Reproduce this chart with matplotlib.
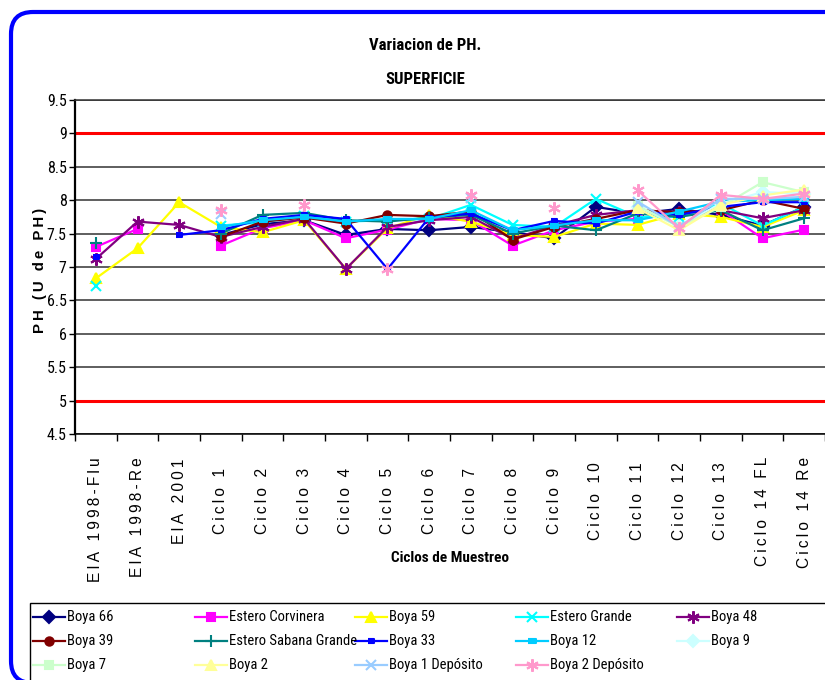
import numpy as np
import matplotlib.pyplot as plt
from matplotlib.lines import Line2D
from matplotlib.patches import FancyBboxPatch, Rectangle

# Fuentes: estrecha (tipo Arial Narrow) y normal (tipo Arial)
ESTRECHA = ['Roboto Condensed', 'Liberation Sans', 'DejaVu Sans']
NORMAL = ['Liberation Sans', 'DejaVu Sans']
plt.rcParams['font.family'] = ESTRECHA

# Categorias del eje X
ciclos = ['EIA 1998-Flu', 'EIA 1998-Re', 'EIA 2001', 'Ciclo 1', 'Ciclo 2', 'Ciclo 3',
          'Ciclo 4', 'Ciclo 5', 'Ciclo 6', 'Ciclo 7', 'Ciclo 8', 'Ciclo 9', 'Ciclo 10',
          'Ciclo 11', 'Ciclo 12', 'Ciclo 13', 'Ciclo 14 FL', 'Ciclo 14 Re']

N = None
# Valores de pH por estacion
boya_66 = [N, N, N, 7.48, 7.64, 7.70, 7.48, 7.57, 7.55, 7.60, 7.52, 7.43, 7.90, 7.80, 7.87, 7.78, 7.62, 7.90]
estero_corvinera = [7.30, 7.57, N, 7.32, 7.58, 7.70, 7.43, 7.56, 7.72, 7.70, 7.32, 7.55, 7.68, 7.72, 7.80, 7.85, 7.43, 7.56]
boya_59 = [6.83, 7.28, 7.97, 7.60, 7.52, 7.70, 6.97, 7.58, 7.78, 7.68, 7.48, 7.45, 7.65, 7.63, 7.80, 7.75, 7.60, 7.85]
estero_grande = [6.72, N, N, 7.62, 7.67, 7.76, 7.68, 7.70, 7.72, 7.93, 7.63, 7.60, 8.02, 7.75, 7.75, 7.95, 7.62, 7.90]
boya_48 = [7.12, 7.68, 7.63, 7.45, 7.60, 7.72, 6.97, 7.60, 7.70, 7.75, 7.42, 7.62, 7.78, 7.85, 7.82, 7.85, 7.73, 7.85]
boya_39 = [N, N, N, 7.45, 7.68, 7.74, 7.65, 7.78, 7.76, 7.83, 7.41, 7.60, 7.72, 7.85, 7.82, 7.85, 8.00, 7.87]
estero_sabana = [7.36, N, N, 7.50, 7.78, 7.81, 7.70, 7.68, 7.74, 7.78, 7.50, 7.62, 7.55, 7.80, 7.75, 7.85, 7.55, 7.73]
boya_33 = [7.15, N, 7.48, 7.55, 7.72, 7.78, 7.72, 6.97, 7.74, 7.80, 7.55, 7.69, 7.65, 7.83, 7.78, 7.90, 7.97, 7.97]
boya_12 = [N, N, N, 7.60, 7.70, 7.75, 7.68, 7.72, 7.72, 7.85, 7.55, 7.62, 7.70, 7.70, 7.83, 7.98, 8.00, 8.02]
boya_9 = [N, N, N, N, N, N, N, N, N, N, N, N, N, 7.90, 7.62, 7.95, 8.12, 8.10]
boya_7 = [N, N, N, N, N, N, N, N, N, N, N, N, N, 7.92, 7.60, 7.90, 8.27, 8.12]
boya_2 = [N, N, N, N, N, N, N, N, N, N, N, N, N, 7.88, 7.55, 7.93, 8.07, 8.16]
boya_1_dep = [N, N, N, 7.80, N, N, N, N, N, 8.03, N, N, N, 7.98, 7.60, 8.02, 8.02, 8.05]
boya_2_dep = [N, N, N, 7.85, N, 7.93, N, 6.97, N, 8.08, N, 7.88, N, 8.15, 7.58, 8.08, 8.02, 8.10]

# Limites de referencia
limite_sup = 9
limite_inf = 5

rect = [(-1, -0.45), (1, -0.45), (1, 0.45), (-1, 0.45)]
estrella = (6, 2, 0)
series = [
    ('Boya 66', boya_66, '#000080', 'D', 6),
    ('Estero Corvinera', estero_corvinera, '#FF00FF', 's', 6),
    ('Boya 59', boya_59, '#FFFF00', '^', 7),
    ('Estero Grande', estero_grande, '#00FFFF', 'x', 7),
    ('Boya 48', boya_48, '#800080', estrella, 9),
    ('Boya 39', boya_39, '#800000', 'o', 6),
    ('Estero Sabana Grande', estero_sabana, '#008080', '+', 8),
    ('Boya 33', boya_33, '#0000FF', rect, 5),
    ('Boya 12', boya_12, '#00CCFF', rect, 6),
    ('Boya 9', boya_9, '#CCFFFF', 'D', 6),
    ('Boya 7', boya_7, '#CCFFCC', 's', 6),
    ('Boya 2', boya_2, '#FFFF99', '^', 7),
    ('Boya 1 Depósito', boya_1_dep, '#99CCFF', 'x', 7),
    ('Boya 2 Depósito', boya_2_dep, '#FF99CC', estrella, 9),
]

fig = plt.figure(figsize=(8.25, 6.8), dpi=100)
ax = fig.add_axes([75 / 825, 1 - 434 / 680, 750 / 825, 334 / 680])

x = np.arange(len(ciclos))
for nombre, valores, color, marca, tam in series:
    y = np.array([np.nan if v is None else v for v in valores], dtype=float)
    ax.plot(x, y, color=color, lw=1.6, marker=marca, ms=tam, mfc=color, mec=color,
            mew=1.5, label=nombre, zorder=3)

ax.axhline(limite_sup, color='red', lw=2.2, zorder=2)
ax.axhline(limite_inf, color='red', lw=2.2, zorder=2)

# Ejes
ax.set_xlim(-0.5, len(ciclos) - 0.5)
ax.set_ylim(4.5, 9.5)
yt = np.arange(4.5, 9.51, 0.5)
ax.set_yticks(yt)
ax.set_yticklabels([f'{v:g}' for v in yt], fontsize=11.5)
ax.yaxis.grid(True, color='#333333', lw=1.1)
ax.set_axisbelow(True)
ax.tick_params(axis='y', direction='out', length=4, width=1, pad=2)

ax.set_xticks(x)
ax.set_xticklabels([])
ax.set_xticks(np.arange(-0.5, len(ciclos)), minor=True)
ax.tick_params(axis='x', which='major', length=0)
ax.tick_params(axis='x', which='minor', length=5, width=1, direction='out')

# Etiquetas de categoria verticales y espaciadas (centradas si caben)
alto_ax = 334
centro = -(501 - 434) / alto_ax
tope = -(457 - 434) / alto_ax
renderer = fig.canvas.get_renderer()
for i, c in enumerate(ciclos):
    t = ax.text(i, centro, '\u2009'.join(c), rotation=90, ha='center', va='center',
                fontsize=11.2, family=NORMAL, transform=ax.get_xaxis_transform())
    h = t.get_window_extent(renderer).height
    if h / 2 > (501 - 457):
        t.set_y(tope)
        t.set_va('top')

ax.spines['right'].set_visible(False)
ax.spines['left'].set_linewidth(1.6)
ax.spines['bottom'].set_linewidth(1.1)
ax.spines['top'].set_linewidth(1.1)
ax.spines['top'].set_color('#333333')

# Titulos y etiquetas
fig.text(425 / 825, 1 - 45 / 680, 'Variacion de PH.', ha='center', va='center',
         fontsize=12, fontweight='bold')
fig.text(425 / 825, 1 - 80 / 680, 'SUPERFICIE', ha='center', va='center',
         fontsize=12, fontweight='bold')
fig.text(40 / 825, 1 - 270 / 680, '\u2009'.join('PH (U de PH)'), rotation=90,
         ha='center', va='center', fontsize=10.8, fontweight='bold', family=NORMAL)
fig.text(450 / 825, 1 - 558 / 680, 'Ciclos de Muestreo', ha='center', va='center',
         fontsize=11, fontweight='bold')

# Marco azul redondeado del grafico
marco = FancyBboxPatch((0.11, -0.03), 9.0, 6.71, boxstyle='round,pad=0,rounding_size=0.22',
                       transform=fig.dpi_scale_trans, fill=False, edgecolor='#0000FF',
                       lw=3, clip_on=False)
fig.patches.append(marco)

# Leyenda en 5 columnas, ordenada por filas
caja = Rectangle((0.30, -0.1), 9.0, 0.87, transform=fig.dpi_scale_trans, fill=False,
                 edgecolor='black', lw=1)
fig.patches.append(caja)
col_x = [33, 195, 355, 516, 677]
fila_y = [617, 641, 665]
for i, (nombre, valores, color, marca, tam) in enumerate(series):
    x0 = col_x[i % 5] / 825
    y0 = 1 - fila_y[i // 5] / 680
    fig.lines.append(Line2D([x0, x0 + 32 / 825], [y0, y0], color=color, lw=1.6,
                            transform=fig.transFigure))
    fig.lines.append(Line2D([x0 + 16 / 825], [y0], color=color, marker=marca, ms=tam,
                            mfc=color, mec=color, mew=1.5, transform=fig.transFigure))
    fig.text(x0 + 34 / 825, y0, nombre, ha='left', va='center', fontsize=10.5)

plt.savefig('out.png', dpi=100)
